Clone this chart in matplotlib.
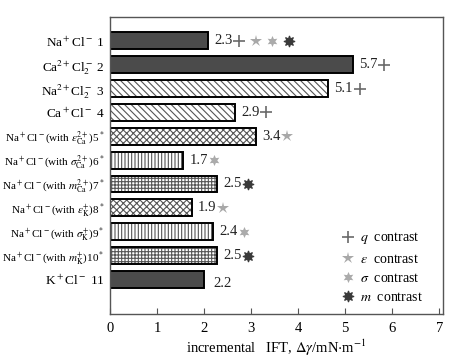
import numpy as np
import matplotlib
matplotlib.use('Agg')
import matplotlib.pyplot as plt
from matplotlib.lines import Line2D
from matplotlib.transforms import ScaledTranslation

plt.rcParams['font.family'] = ['Liberation Serif', 'DejaVu Serif']
plt.rcParams['mathtext.fontset'] = 'stix'
plt.rcParams['hatch.linewidth'] = 0.8

# categories, top to bottom
labels = [r'Na$^+$Cl$^-$ 1',
          r'Ca$^{2+}$Cl$_2^-$ 2',
          r'Na$^{2+}$Cl$_2^-$ 3',
          r'Ca$^+$Cl$^-$ 4',
          r'Na$^+$Cl$^-$(with $\varepsilon^{2+}_{\rm Ca}$)5$^*$',
          r'Na$^+$Cl$^-$(with $\sigma^{2+}_{\rm Ca}$)6$^*$',
          r'Na$^+$Cl$^-$(with $m^{2+}_{\rm Ca}$)7$^*$',
          r'Na$^+$Cl$^-$(with $\varepsilon^{+}_{\rm K}$)8$^*$',
          r'Na$^+$Cl$^-$(with $\sigma^{+}_{\rm K}$)9$^*$',
          r'Na$^+$Cl$^-$(with $m^{+}_{\rm K}$)10$^*$',
          r'K$^+$Cl$^-$ 11']
# bar lengths as drawn, and the value printed next to each bar
lengths = [2.08, 5.17, 4.64, 2.66, 3.10, 1.55, 2.27, 1.74, 2.19, 2.27, 2.00]
values = ['2.3', '5.7', '5.1', '2.9', '3.4', '1.7', '2.5', '1.9', '2.4', '2.5', '2.2']
hatches = [None, None, '\\\\\\\\\\', '\\\\\\\\\\', 'xxxxx', '|||||', '+++++',
           'xxxxx', '|||||', '+++++', None]
contrasts = [['q', 'e', 's', 'm'], ['q'], ['q'], ['q'], ['e'], ['s'], ['m'],
             ['e'], ['s'], ['m'], []]

# marker styles for each contrast type
mstyle = {'q': dict(marker='+', color='#6a6a6a', ms=8, mew=1.2),
          'e': dict(marker='*', color='#a8a8a8', ms=9, mew=0),
          's': dict(marker=(6, 1, 0), color='#ababab', ms=8, mew=0),
          'm': dict(marker=(8, 1, 0), color='#3a3a3a', ms=8, mew=0.8)}
mlabel = {'q': r'$q$  contrast', 'e': r'$\varepsilon$  contrast',
          's': r'$\sigma$  contrast', 'm': r'$m$  contrast'}

fig = plt.figure(figsize=(4.53, 3.58), dpi=100)
ax = fig.add_axes([0.243, 0.123, 0.735, 0.8295])

y = np.arange(1, len(labels) + 1)
for i in range(len(labels)):
    if hatches[i] is None:
        ax.barh(y[i], lengths[i], height=0.71, color='#4b4b4b',
                edgecolor='black', linewidth=1.4)
    else:
        ax.barh(y[i], lengths[i], height=0.71, color='white',
                edgecolor='#555555', linewidth=0, hatch=hatches[i])
        ax.barh(y[i], lengths[i], height=0.71, fill=False,
                edgecolor='black', linewidth=1.4)

# value labels and contrast markers (offsets in points)
for i in range(len(labels)):
    dx, dy = 4.5, 0
    if i == 10:
        dx, dy = 6.5, -3
    ax.annotate(values[i], (lengths[i], y[i]), xytext=(dx, dy),
                textcoords='offset points', va='center', ha='left',
                fontsize=10.5, color='#222222')
    for k, c in enumerate(contrasts[i]):
        mx = dx + 18 + k * 12
        ax.plot([lengths[i]], [y[i]], linestyle='none',
                transform=ax.transData + ScaledTranslation(
                    mx / 72, 0, fig.dpi_scale_trans),
                markeredgecolor=mstyle[c]['color'],
                **mstyle[c])

ax.set_xlim(0, 7.08)
ax.set_ylim(12.45, 0.0)
ax.set_yticks(y)
ax.set_yticklabels(labels)
for i, t in enumerate(ax.get_yticklabels()):
    t.set_fontsize(8.0 if '(with' in labels[i] else 9.5)
ax.tick_params(axis='y', length=0, pad=4)
ax.set_xticks(np.arange(0, 8))
ax.tick_params(axis='x', direction='in', length=4, labelsize=10.5, pad=6,
               color='#555555')
for s in ax.spines.values():
    s.set_color('#555555')
    s.set_linewidth(1.0)
ax.set_xlabel(r'incremental   IFT, $\Delta\gamma$/mN$\cdot$m$^{-1}$',
              fontsize=10.5, labelpad=2)

handles = [Line2D([], [], linestyle='none', markeredgecolor=mstyle[c]['color'],
                  **mstyle[c]) for c in ['q', 'e', 's', 'm']]
ax.legend(handles, [mlabel[c] for c in ['q', 'e', 's', 'm']], loc='lower right',
          bbox_to_anchor=(0.97, 0.0), frameon=False, fontsize=10,
          handlelength=1.0, handletextpad=0.4, labelspacing=0.45,
          borderaxespad=0.3)

plt.savefig('out.png', dpi=100)
